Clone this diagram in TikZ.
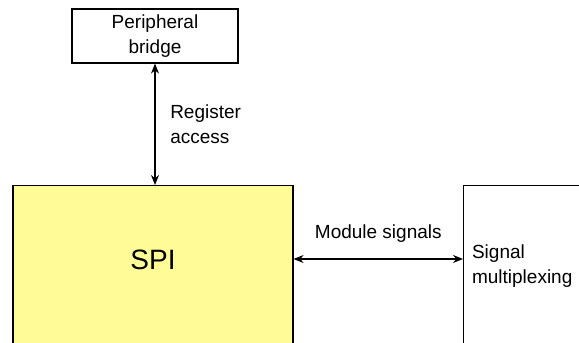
\documentclass[tikz,border=0pt]{standalone}
\usepackage{fontspec}
\setmainfont{Liberation Sans}
\usetikzlibrary{arrows.meta,positioning}
\definecolor{spiyellow}{RGB}{255,251,150}

\begin{document}
\begin{tikzpicture}[x=0.5pt,y=-0.5pt,
    box/.style={draw,line width=0.6pt,inner sep=0pt},
    lbl/.style={font=\fontsize{9.5}{12.5}\selectfont,align=left},
    link/.style={{Stealth[length=5pt,width=4pt]}-{Stealth[length=5pt,width=4pt]},line width=0.6pt}]
    \useasboundingbox (0,0) rectangle (579,343);
    \clip (0,0) rectangle (579,343);

    \node[box,minimum width=83pt,minimum height=27pt,lbl,align=center] (bridge) at (155,36) {Peripheral\\bridge};
    \node[box,fill=spiyellow,minimum width=140pt,minimum height=87.5pt,anchor=north] (spi) at (153,185) {};
    \node[font=\fontsize{14}{16}\selectfont] (spitext) at ([yshift=-37.5pt]spi.north) {SPI};
    \node[box,minimum width=150pt,minimum height=87.5pt,anchor=north west] (mux) at (463,185) {};
    \node[lbl,anchor=west] (muxtext) at ([xshift=1pt,yshift=3.75pt]mux.west) {Signal\\multiplexing};

    \coordinate (sig) at (380,259);
    \draw[link] (bridge.south) -- (bridge.south |- spi.north) node[midway,right=4pt,lbl] {Register\\access};
    \draw[link] (spi.east |- sig) -- (mux.west |- sig) node[midway,above=4.5pt,lbl] {Module signals};
\end{tikzpicture}
\end{document}
